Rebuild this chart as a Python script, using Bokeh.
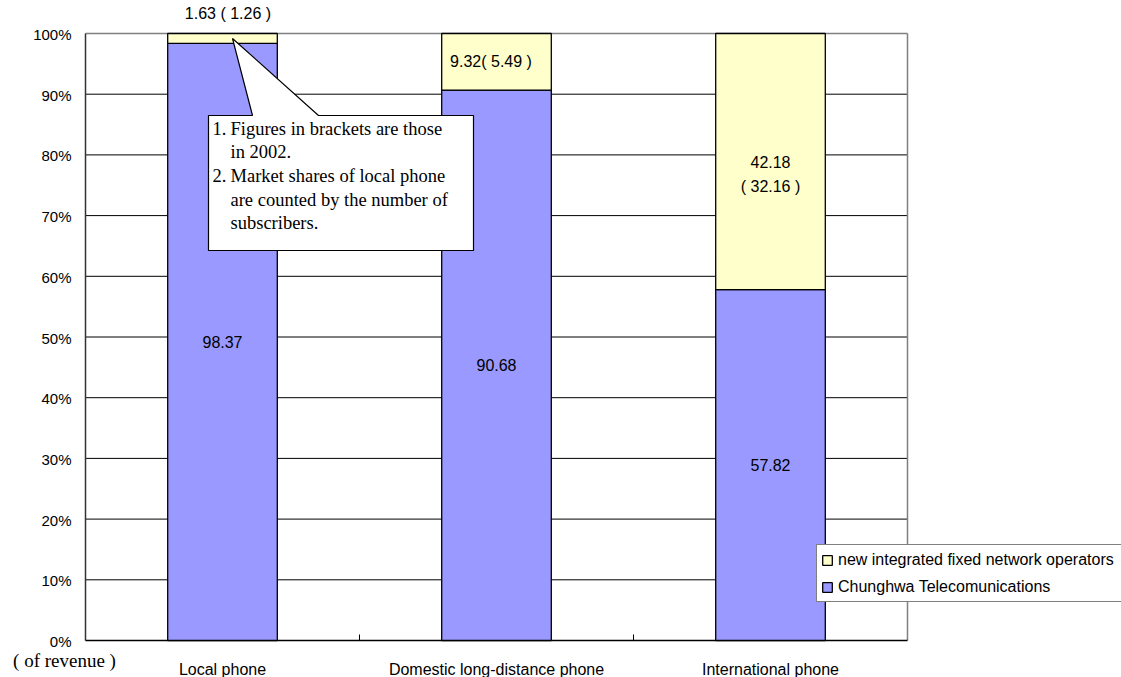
from bokeh.plotting import figure
from bokeh.models import Range1d, Legend, LegendItem, ColumnDataSource
from bokeh.core.properties import value
from bokeh.embed import file_html
from bokeh.resources import INLINE

# Market share (% of revenue), 2003, with 2002 figures in brackets
categories = ["Local phone", "Domestic long-distance phone", "International phone"]
chunghwa = [98.37, 90.68, 57.82]
new_operators = [1.63, 9.32, 42.18]
new_operators_2002 = [1.26, 5.49, 32.16]
y_ticks = [0, 10, 20, 30, 40, 50, 60, 70, 80, 90, 100]
y_tick_labels = ["%d%%" % t for t in y_ticks]
series_names = ["Chunghwa Telecomunications", "new integrated fixed network operators"]
note_lines = [
    ("1.", "Figures in brackets are those"),
    ("", "in 2002."),
    ("2.", "Market shares of local phone"),
    ("", "are counted by the number of"),
    ("", "subscribers."),
]

BLUE = "#9999FF"
YELLOW = "#FFFFCC"
SANS = "Liberation Sans"
SERIF = "Liberation Serif"

W, H = 1121, 677
# plot area inside the canvas, in pixels
AREA_L, AREA_R, AREA_T, AREA_B = 85, 907, 33, 640
n = len(categories)
px_x = (AREA_R - AREA_L) / n          # pixels per category
px_y = (AREA_B - AREA_T) / 100.0      # pixels per percent

x_range = Range1d(-AREA_L / px_x, n + (W - AREA_R) / px_x)
y_range = Range1d(-(H - AREA_B) / px_y, 100 + AREA_T / px_y)

p = figure(width=W, height=H, output_backend="svg", toolbar_location=None,
           x_range=x_range, y_range=y_range,
           min_border=0, x_axis_type=None, y_axis_type=None)
p.outline_line_color = None
p.xgrid.visible = False
p.ygrid.visible = False
p.background_fill_color = "white"
p.border_fill_color = "white"

xc = [i + 0.5 for i in range(n)]

# horizontal grid lines
inner = [t for t in y_ticks if 0 < t < 100]
p.segment(x0=[0] * len(inner), x1=[n] * len(inner), y0=inner, y1=inner,
          line_color="black", line_width=1)
# plot area border: grey top and right, dark axes on left and bottom
p.segment(x0=[0, n], x1=[n, n], y0=[100, 0], y1=[100, 100],
          line_color="#808080", line_width=1.5)
p.segment(x0=[0], x1=[0], y0=[0], y1=[100], line_color="#333333", line_width=1.5)
p.segment(x0=[0], x1=[n], y0=[0], y1=[0], line_color="black", line_width=1.5)
# separators between categories on the bottom axis
seps = [i for i in range(1, n)]
p.segment(x0=seps, x1=seps, y0=[0] * len(seps), y1=[6 / px_y] * len(seps),
          line_color="black", line_width=1)

# y tick labels
p.text(x=[-14 / px_x] * len(y_ticks), y=[t - 1 / px_y for t in y_ticks], text=y_tick_labels,
       text_font=value(SANS), text_font_size="15px", text_color="black",
       text_align="right", text_baseline="middle")
# category labels
p.text(x=xc, y=[-29 / px_y] * n, text=categories,
       text_font=value(SANS), text_font_size="16px", text_color="black",
       text_align="center", text_baseline="middle")
# unit note under the y axis
p.text(x=[-21 / px_x], y=[-20 / px_y], text=["( of revenue )"],
       text_font=value(SERIF), text_font_size="19px", text_color="black",
       text_align="center", text_baseline="middle")

src = ColumnDataSource(dict(x=xc, blue=chunghwa, yellow=new_operators,
                            top=[b + y for b, y in zip(chunghwa, new_operators)]))
r_blue = p.vbar(x="x", top="blue", bottom=0, width=0.4, source=src,
                fill_color=BLUE, line_color="black", line_width=1.3)
r_yellow = p.vbar(x="x", bottom="blue", top="top", width=0.4, source=src,
                  fill_color=YELLOW, line_color="black", line_width=1.3)

lbl = dict(text_font=value(SANS), text_font_size="16px", text_color="black",
           text_align="center", text_baseline="middle")

# Chunghwa values, in the middle of each blue segment
p.text(x=xc, y=[v / 2 for v in chunghwa], text=["%.2f" % v for v in chunghwa], **lbl)

# new operators: current value with 2002 in brackets
p.text(x=[xc[0] + 0.02], y=[chunghwa[0] + new_operators[0] + 20 / px_y],
       text=["%.2f ( %.2f )" % (new_operators[0], new_operators_2002[0])], **lbl)
p.text(x=[xc[1] - 0.02], y=[chunghwa[1] + new_operators[1] / 2],
       text=["%.2f( %.2f )" % (new_operators[1], new_operators_2002[1])], **lbl)
mid = chunghwa[2] + new_operators[2] / 2
p.text(x=[xc[2], xc[2]], y=[mid, mid - 25 / px_y],
       text=["%.2f" % new_operators[2], "( %.2f )" % new_operators_2002[2]], **lbl)

# callout box with a pointer to the top of the local phone bar
def to_x(px):
    return (px - AREA_L) / px_x

def to_y(py):
    return (AREA_B - py) / px_y

bx0, bx1, by_top, by_bot = to_x(208), to_x(473), to_y(115), to_y(250)
tip_x, tip_y = to_x(232), to_y(38)
base_l, base_r = to_x(252), to_x(318)
p.patch(x=[bx0, base_l, tip_x, base_r, bx1, bx1, bx0],
        y=[by_top, by_top, tip_y, by_top, by_top, by_bot, by_bot],
        fill_color="white", line_color="black", line_width=1.2)
for i, (num, txt) in enumerate(note_lines):
    ly = to_y(128 + 23.7 * i)
    if num:
        p.text(x=[to_x(212)], y=[ly], text=[num], text_font=value(SERIF),
               text_font_size="18.5px", text_color="black",
               text_align="left", text_baseline="middle")
    p.text(x=[to_x(230)], y=[ly], text=[txt], text_font=value(SERIF),
           text_font_size="18.5px", text_color="black",
           text_align="left", text_baseline="middle")

legend = Legend(items=[LegendItem(label=series_names[1], renderers=[r_yellow]),
                       LegendItem(label=series_names[0], renderers=[r_blue])],
                location=(816, H - 602))
legend.border_line_color = "black"
legend.border_line_width = 1
legend.background_fill_color = "white"
legend.background_fill_alpha = 1
legend.label_text_font = SANS
legend.label_text_font_size = "16px"
legend.label_text_color = "black"
legend.glyph_width = 12
legend.glyph_height = 12
legend.label_standoff = 5
legend.label_height = 21
legend.label_width = 300
legend.spacing = 6
legend.padding = 4
legend.margin = 0
p.add_layout(legend, "center")

open("out.html", "w").write(file_html(p, INLINE))
